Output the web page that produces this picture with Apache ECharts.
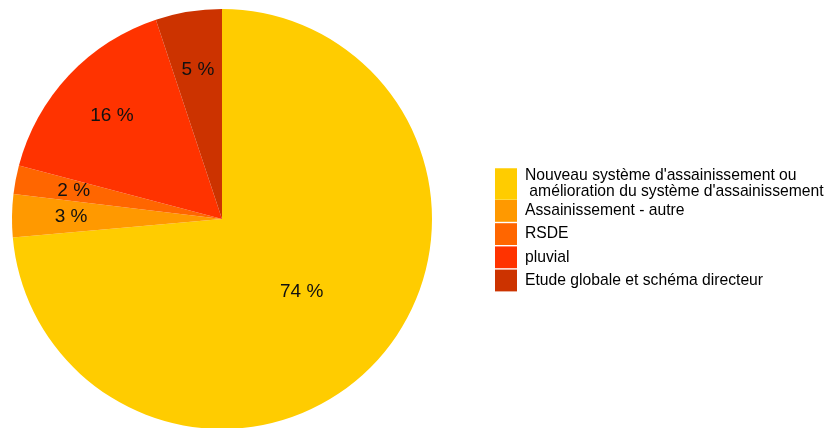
<!DOCTYPE html>
<html><head><meta charset="utf-8">
<script src="https://cdn.jsdelivr.net/npm/echarts@6/dist/echarts.min.js"></script>
<style>html,body{margin:0;padding:0;background:#fff}#c{width:838px;height:428px}</style>
</head><body><div id="c"></div>
<script>
const categories = ["Nouveau système d'assainissement ou\n amélioration du système d'assainissement", "Assainissement - autre", "RSDE", "pluvial", "Etude globale et schéma directeur"];
const values = [73.6, 3.3, 2.2, 15.8, 5.1];
const colors = ['#ffcc00', '#ff9900', '#ff6600', '#ff3300', '#cc3300'];

const chart = echarts.init(document.getElementById('c'), null, {renderer: 'canvas'});
const total = values.reduce((a, b) => a + b, 0);
const fmt = p => Math.round(p.value / total * 100) + ' %';
const font = 'Liberation Sans, Arial, sans-serif';
const mainData = categories.map((n, i) => ({name: n, value: values[i], itemStyle: {color: colors[i]}, label: {show: i === 0}}));
const outerLabelData = categories.map((n, i) => ({name: n, value: values[i], label: {show: i !== 0}}));
const legendText = {fontFamily: font, fontSize: 15.7, color: '#000', lineHeight: 16, padding: [0, 0, 0, 3]};
chart.setOption({
  animation: false,
  legend: [{
    orient: 'vertical', left: 490, top: 163, padding: 5,
    itemWidth: 22, itemHeight: 31.5, itemGap: 0,
    icon: 'rect', selectedMode: false,
    textStyle: legendText,
    data: categories.slice(0, 1)
  }, {
    orient: 'vertical', left: 490, top: 195, padding: 5,
    itemWidth: 22, itemHeight: 21.8, itemGap: 1.4,
    icon: 'rect', selectedMode: false,
    textStyle: legendText,
    data: categories.slice(1)
  }],
  series: [{
    type: 'pie', center: [222, 219], radius: [0, 210], startAngle: 90, clockwise: true,
    silent: true, labelLine: {show: false},
    label: {position: 'inside', formatter: fmt, color: '#111', fontSize: 19, fontFamily: font},
    itemStyle: {borderWidth: 0},
    data: mainData
  }, {
    type: 'pie', center: [222, 219], radius: [0, 296], startAngle: 90, clockwise: true,
    silent: true, labelLine: {show: false}, legendHoverLink: false,
    itemStyle: {color: 'rgba(0,0,0,0)', borderWidth: 0},
    label: {position: 'inside', formatter: fmt, color: '#111', fontSize: 19, fontFamily: font},
    data: outerLabelData, z: 3
  }]
});
</script></body></html>
